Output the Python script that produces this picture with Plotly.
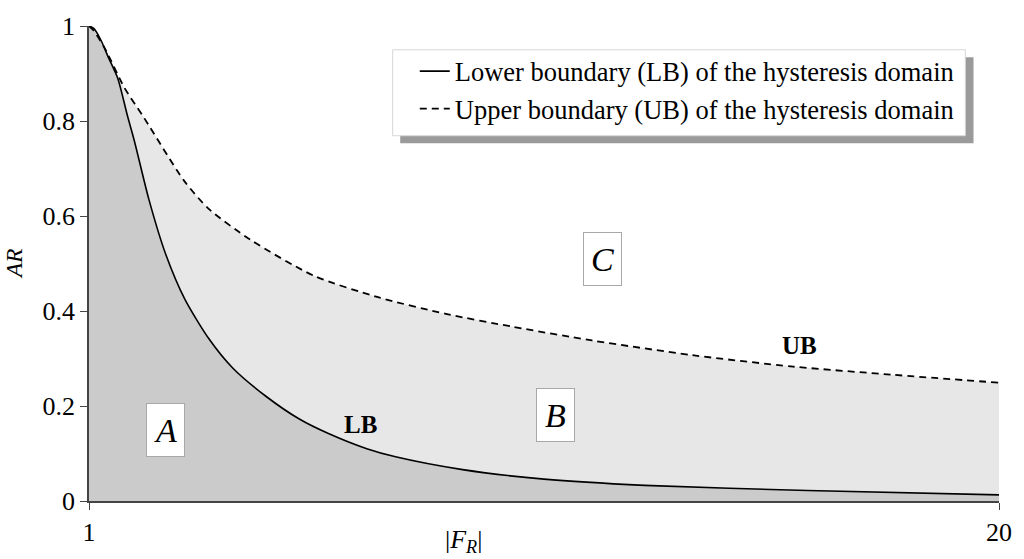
import plotly.graph_objects as go

# Lower boundary (LB) of the hysteresis domain
lb_fr = [1.0, 1.1, 1.25, 1.4, 1.6, 1.8, 1.95, 2.25, 2.6, 3.0, 3.5, 4.0, 4.7,
         5.4, 6.0, 6.8, 7.4, 8.8, 10.5, 12.6, 16.0, 20.0]
lb_ar = [1.0, 0.995, 0.97, 0.935, 0.89, 0.812, 0.757, 0.635, 0.52, 0.425, 0.342,
         0.28, 0.22, 0.172, 0.142, 0.11, 0.093, 0.066, 0.046, 0.033, 0.022, 0.013]

# Upper boundary (UB) of the hysteresis domain
ub_fr = [1.0, 1.1, 1.33, 1.74, 2.16, 2.98, 3.5, 4.37, 5.7, 7.07, 8.45, 9.84,
         11.5, 13.6, 15.7, 17.75, 20.0]
ub_ar = [1.0, 0.99, 0.953, 0.87, 0.805, 0.675, 0.615, 0.55, 0.474, 0.428, 0.394,
         0.367, 0.338, 0.307, 0.283, 0.266, 0.249]

# Region labels and boundary tags (position in data units)
regions = ["A", "B", "C"]
region_fr = [2.6, 10.73, 11.72]
region_ar = [0.149, 0.181, 0.509]
tags = ["LB", "UB"]
tag_fr = [6.66, 15.83]
tag_ar = [0.161, 0.327]

x_ticks = [1, 20]
y_ticks = [0, 0.2, 0.4, 0.6, 0.8, 1]
y_tick_text = ["0", "0.2", "0.4", "0.6", "0.8", "1"]

SERIF = "Liberation Serif, Times New Roman, Times, DejaVu Serif, serif"
SMOOTH = 0.7

fig = go.Figure()

# shaded domains: A below LB, B between LB and UB
fig.add_trace(go.Scatter(x=lb_fr, y=lb_ar, mode="lines", fill="tozeroy",
                         fillcolor="#cbcbcb",
                         line=dict(width=0, shape="spline", smoothing=SMOOTH),
                         showlegend=False, hoverinfo="skip"))
fig.add_trace(go.Scatter(x=ub_fr, y=ub_ar, mode="lines", fill="tonexty",
                         fillcolor="#e7e7e7",
                         line=dict(width=0, shape="spline", smoothing=SMOOTH),
                         showlegend=False, hoverinfo="skip"))

# boundary curves
fig.add_trace(go.Scatter(x=lb_fr, y=lb_ar, mode="lines",
                         name="Lower boundary (LB) of the hysteresis domain",
                         line=dict(color="black", width=1.6, shape="spline",
                                   smoothing=SMOOTH)))
fig.add_trace(go.Scatter(x=ub_fr, y=ub_ar, mode="lines",
                         name="Upper boundary (UB) of the hysteresis domain",
                         line=dict(color="black", width=1.8, shape="spline",
                                   smoothing=SMOOTH, dash="7px,5px")))

annotations = []
for name, fx, fy in zip(regions, region_fr, region_ar):
    annotations.append(dict(x=fx, y=fy, xref="x", yref="y", text=f"<i>{name}</i>",
                            showarrow=False, font=dict(family=SERIF, size=34, color="black"),
                            bgcolor="white", bordercolor="#a8a8a8", borderwidth=1,
                            borderpad=0, width=37, height=52))
for name, fx, fy in zip(tags, tag_fr, tag_ar):
    annotations.append(dict(x=fx, y=fy, xref="x", yref="y", text=f"<b>{name}</b>",
                            showarrow=False, font=dict(family=SERIF, size=25, color="black")))

# axis titles
annotations.append(dict(x=0.411, y=-0.085, xref="paper", yref="paper",
                        xanchor="center", yanchor="middle",
                        text="|<i>F</i><sub><i>R</i></sub>|", showarrow=False,
                        font=dict(family=SERIF, size=26, color="black")))
annotations.append(dict(x=-0.082, y=0.5, xref="paper", yref="paper",
                        xanchor="center", yanchor="middle",
                        text="<i>AR</i>", textangle=-90, showarrow=False,
                        font=dict(family=SERIF, size=23, color="black")))

# legend frame with drop shadow
shapes = [
    dict(type="rect", xref="paper", yref="paper", x0=0.342, x1=0.972, y0=0.753, y1=0.934,
         fillcolor="#9a9a9a", line=dict(width=0), layer="above"),
    dict(type="rect", xref="paper", yref="paper", x0=0.3337, x1=0.963, y0=0.769, y1=0.950,
         fillcolor="white", line=dict(color="#d6d6d6", width=1), layer="above"),
]

fig.update_layout(
    width=1024, height=559,
    margin=dict(l=89, r=15, t=15, b=46),
    paper_bgcolor="white", plot_bgcolor="white",
    font=dict(family=SERIF, size=26, color="black"),
    showlegend=True,
    legend=dict(x=0.358, y=0.955, xanchor="left", yanchor="top",
                traceorder="normal",
                bgcolor="rgba(0,0,0,0)", borderwidth=0,
                font=dict(family=SERIF, size=26.5, color="black"),
                itemwidth=30, tracegroupgap=0),
    annotations=annotations,
    shapes=shapes,
    xaxis=dict(range=[1, 20], tickvals=x_ticks, ticktext=[str(v) for v in x_ticks],
               showgrid=False, zeroline=False, showline=True, linecolor="#444",
               linewidth=1.5, ticks="outside", ticklen=7, tickcolor="#444",
               tickfont=dict(family=SERIF, size=26, color="black")),
    yaxis=dict(range=[0, 1], tickvals=y_ticks, ticktext=y_tick_text,
               showgrid=False, zeroline=False, showline=True, linecolor="#444",
               linewidth=1.5, ticks="outside", ticklen=7, tickcolor="#444",
               tickfont=dict(family=SERIF, size=26, color="black")),
)

fig.write_html("out.html")
